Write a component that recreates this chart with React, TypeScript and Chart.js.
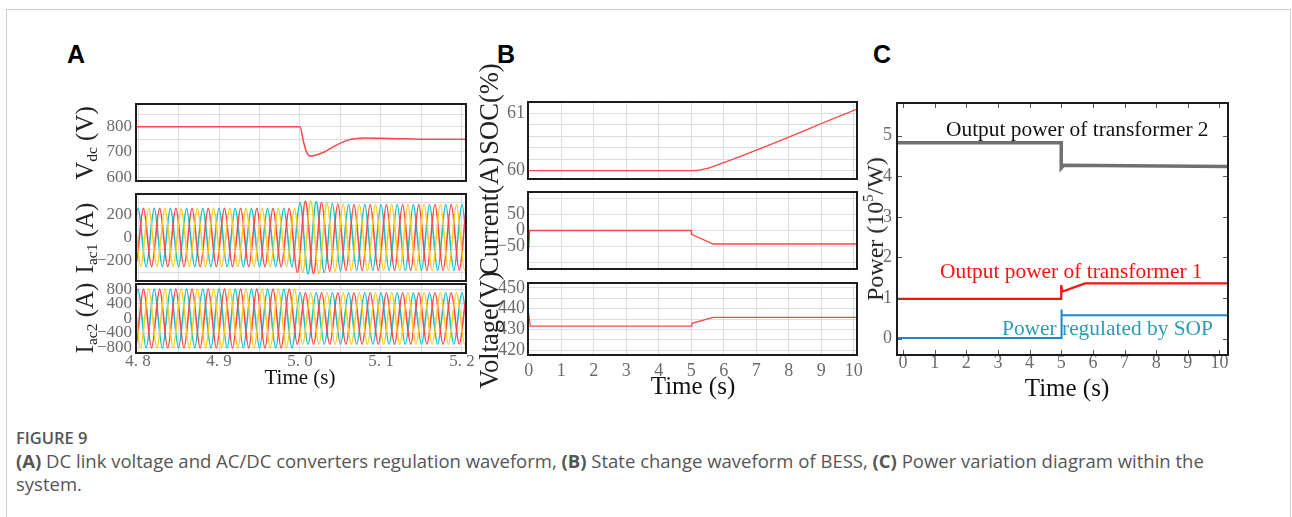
import React, { useEffect, useRef } from "react";
import { Chart, registerables } from "chart.js";
Chart.register(...registerables);

// ---------------- Panel A data ----------------
const vdcTime = [4.79, 5.0, 5.004, 5.008, 5.011, 5.015, 5.02, 5.03, 5.04, 5.05, 5.06, 5.07, 5.08, 5.1, 5.13, 5.16, 5.21];
const vdcVals = [800, 800, 745, 700, 686, 684, 688, 700, 718, 735, 748, 753, 755, 754, 752, 750, 750];

// AC currents: peak/trough magnitudes per half-cycle slot (50 Hz, slots of 0.01 s from 4.78 s)
const acSlotStart = 4.78;
const acHalfPeriod = 0.01;
const acEnd = 5.23;
const iac1Envelope = [
  250, 250, 250, 250, 250, 250, 250, 250, 250, 250, 250, 250, 250, 250, 250, 250, 250, 250, 250, 250, 250, 250,
  300, 312, 308, 300, 292, 287,
  283, 283, 283, 283, 283, 283, 283, 283, 283, 283, 283, 283, 283, 283, 283, 283, 283,
];
const iac2Envelope = [
  810, 810, 810, 810, 810, 810, 810, 810, 810, 810, 810, 810, 810, 810, 810, 810, 810, 810, 810, 810, 810, 810,
  710, 710, 710, 710, 710, 710, 710, 710, 710, 710, 710, 710, 710, 710, 710, 710, 710, 710, 710, 710, 710,
];
// first positive peak time of each phase
const phaseFirstPeak = { cyan: 4.8, red: 4.8067, yellow: 4.8133 };

const aXGrid = [4.8, 4.85, 4.9, 4.95, 5.0, 5.05, 5.1, 5.15, 5.2];
const aXLabelVals = [4.8, 4.9, 5.0, 5.1, 5.2];
const aXLabels = ["4. 8", "4. 9", "5. 0", "5. 1", "5. 2"];
const vdcYGrid = [600, 650, 700, 750, 800, 850];
const vdcYLabelVals = [600, 700, 800];
const vdcYLabels = ["600", "700", "800"];
const iac1YGrid = [-300, -200, -100, 0, 100, 200, 300];
const iac1YLabelVals = [-200, 0, 200];
const iac1YLabels = ["\u2212200", "0", "200"];
const iac2YGrid = [-800, -400, 0, 400, 800];
const iac2YLabelVals = [-800, -400, 0, 400, 800];
const iac2YLabels = ["\u2212800", "\u2212400", "0", "400", "800"];

// ---------------- Panel B data ----------------
const socTime = [0, 5.0, 5.15, 5.3, 5.45, 5.6, 10.1];
const socVals = [60, 60, 60.005, 60.015, 60.035, 60.06, 61.075];
const curTime = [0, 0.03, 5.0, 5.01, 5.68, 10.1];
const curVals = [-60, 0, 0, -12, -42, -42];
const voltTime = [0, 0.05, 5.0, 5.02, 5.68, 10.1];
const voltVals = [437.7, 431.6, 431.6, 432.9, 435.8, 435.8];

const bXGrid = [0, 1, 2, 3, 4, 5, 6, 7, 8, 9, 10];
const bXLabels = ["0", "1", "2", "3", "4", "5", "6", "7", "8", "9", "10"];
const socYGrid = [60, 60.2, 60.4, 60.6, 60.8, 61];
const socYLabelVals = [60, 61];
const socYLabels = ["60", "61"];
const curYGrid = [-100, -50, 0, 50, 100];
const curYLabelVals = [-50, 0, 50];
const curYLabels = ["\u221250", "0", "50"];
const voltYGrid = [420, 425, 430, 435, 440, 445, 450];
const voltYLabelVals = [420, 430, 440, 450];
const voltYLabels = ["420", "430", "440", "450"];

// ---------------- Panel C data (10^5 W) ----------------
const t2Time = [-0.19, 5.0, 5.0, 5.08, 10.27];
const t2Vals = [4.82, 4.82, 4.2, 4.27, 4.24];
const t1Time = [-0.19, 5.0, 5.0, 5.04, 5.75, 10.27];
const t1Vals = [0.98, 0.98, 1.32, 1.16, 1.36, 1.36];
const sopTime = [-0.19, 5.0, 5.0, 5.02, 5.04, 10.27];
const sopVals = [0.02, 0.02, 0.72, 0.6, 0.58, 0.58];

const cXTicks = [0, 1, 2, 3, 4, 5, 6, 7, 8, 9, 10];
const cXLabels = ["0", "1", "2", "3", "4", "5", "6", "7", "8", "9", "10"];
const cYTicks = [0, 1, 2, 3, 4, 5];
const cYLabels = ["0", "1", "2", "3", "4", "5"];

// ---------------- helpers ----------------
const zip = (xs: number[], ys: number[]) => xs.map((x, i) => ({ x, y: ys[i] }));

function buildPhase(firstPeak: number, env: number[]) {
  const pts: { x: number; y: number }[] = [];
  for (let k = -3; ; k++) {
    const t = firstPeak + k * acHalfPeriod;
    if (t > acEnd) break;
    const slot = Math.min(env.length - 1, Math.max(0, Math.round((t - acSlotStart) / acHalfPeriod)));
    pts.push({ x: t, y: (k % 2 === 0 ? 1 : -1) * env[slot] });
  }
  return pts;
}

const SERIF = '"Liberation Serif", "Times New Roman", serif';
const GRID = "#dedede";
const TICK = "#6a6a6a";
const YW = 70;
const P = 16;
const XH = 26;

const C_RED = "#ff4747";
const C_YEL = "#ffcc1a";
const C_CYA = "#16c2c8";

const framePlugin = {
  id: "frame",
  afterDraw(chart: any, _args: any, opts: any) {
    const { ctx, chartArea } = chart;
    const { left, top, right, bottom } = chartArea;
    ctx.save();
    if (opts && opts.innerTicks) {
      ctx.strokeStyle = "#555";
      ctx.lineWidth = 1;
      const xs = chart.scales.x;
      const ys = chart.scales.y;
      ctx.beginPath();
      xs.ticks.forEach((tk: any) => {
        const px = Math.round(xs.getPixelForValue(tk.value)) + 0.5;
        ctx.moveTo(px, bottom);
        ctx.lineTo(px, bottom - 5);
        ctx.moveTo(px, top);
        ctx.lineTo(px, top + 5);
      });
      ys.ticks.forEach((tk: any) => {
        const py = Math.round(ys.getPixelForValue(tk.value)) + 0.5;
        ctx.moveTo(left, py);
        ctx.lineTo(left + 5, py);
        ctx.moveTo(right, py);
        ctx.lineTo(right - 5, py);
      });
      ctx.stroke();
    }
    ctx.strokeStyle = "#1c1c1c";
    ctx.lineWidth = 2;
    ctx.strokeRect(left, top, right - left, bottom - top);
    ctx.restore();
  },
};

type Axis = { min: number; max: number; grid: number[]; labelVals: number[]; labels: string[]; pad: number };
type Spec = {
  key: string;
  area: { l: number; t: number; r: number; b: number };
  x: Axis;
  y: Axis;
  showX: boolean;
  gridLines: boolean;
  innerTicks: boolean;
  fontSize: number;
  datasets: any[];
};

function labelFor(v: number, ax: Axis) {
  const i = ax.labelVals.findIndex((lv) => Math.abs(lv - v) < 1e-6);
  return i >= 0 ? ax.labels[i] : "";
}

function PlotCanvas({ spec }: { spec: Spec }) {
  const ref = useRef<HTMLCanvasElement>(null);
  const { l, t, r, b } = spec.area;
  const xh = spec.showX ? XH : 0;
  const cw = YW + (r - l) + P;
  const ch = P + (b - t) + xh + P;
  useEffect(() => {
    const font = { family: SERIF, size: spec.fontSize, lineHeight: 1 };
    const chart = new Chart(ref.current as HTMLCanvasElement, {
      type: "line",
      data: { datasets: spec.datasets },
      plugins: [framePlugin as any],
      options: {
        responsive: false,
        animation: false,
        devicePixelRatio: 1,
        layout: { padding: { left: 0, right: P, top: P, bottom: P } },
        plugins: {
          legend: { display: false },
          tooltip: { enabled: false },
          frame: { innerTicks: spec.innerTicks },
        } as any,
        elements: { point: { radius: 0 } },
        scales: {
          x: {
            type: "linear",
            min: spec.x.min,
            max: spec.x.max,
            afterBuildTicks: (s: any) => {
              s.ticks = spec.x.grid.map((v) => ({ value: v }));
            },
            afterFit: (s: any) => {
              s.height = xh;
            },
            grid: { display: spec.gridLines, color: GRID, lineWidth: 1, drawTicks: false },
            border: { display: false },
            ticks: {
              display: spec.showX,
              autoSkip: false,
              maxRotation: 0,
              minRotation: 0,
              padding: spec.x.pad,
              color: TICK,
              font,
              callback: (v: any) => labelFor(Number(v), spec.x),
            },
          },
          y: {
            type: "linear",
            min: spec.y.min,
            max: spec.y.max,
            afterBuildTicks: (s: any) => {
              s.ticks = spec.y.grid.map((v) => ({ value: v }));
            },
            afterFit: (s: any) => {
              s.width = YW;
            },
            grid: { display: spec.gridLines, color: GRID, lineWidth: 1, drawTicks: false },
            border: { display: false },
            ticks: {
              autoSkip: false,
              padding: spec.y.pad,
              color: TICK,
              font,
              callback: (v: any) => labelFor(Number(v), spec.y),
            },
          },
        },
      } as any,
    });
    return () => chart.destroy();
  }, []);
  return (
    <canvas
      ref={ref}
      width={cw}
      height={ch}
      style={{ position: "absolute", left: l - YW, top: t - P, width: cw, height: ch }}
    />
  );
}

const line = (data: any[], color: string, width: number, smooth = false) => ({
  data,
  borderColor: color,
  borderWidth: width,
  pointRadius: 0,
  fill: false,
  cubicInterpolationMode: smooth ? "monotone" : "default",
  tension: 0,
});

const aX = (showX: boolean): Axis => ({
  min: 4.7975,
  max: 5.205,
  grid: aXGrid,
  labelVals: showX ? aXLabelVals : [],
  labels: showX ? aXLabels : [],
  pad: 0,
});
const bX = (showX: boolean): Axis => ({
  min: -0.02,
  max: 10.1,
  grid: bXGrid,
  labelVals: showX ? bXGrid : [],
  labels: showX ? bXLabels : [],
  pad: 7,
});

const specs: Spec[] = [
  {
    key: "vdc",
    area: { l: 136, t: 104, r: 466, b: 181 },
    x: aX(false),
    y: { min: 585, max: 890, grid: vdcYGrid, labelVals: vdcYLabelVals, labels: vdcYLabels, pad: 4 },
    showX: false,
    gridLines: true,
    innerTicks: false,
    fontSize: 17,
    datasets: [line(zip(vdcTime, vdcVals), C_RED, 1.5, true)],
  },
  {
    key: "iac1",
    area: { l: 136, t: 194, r: 466, b: 281 },
    x: aX(false),
    y: { min: -373, max: 373, grid: iac1YGrid, labelVals: iac1YLabelVals, labels: iac1YLabels, pad: 4 },
    showX: false,
    gridLines: true,
    innerTicks: false,
    fontSize: 17,
    datasets: [
      line(buildPhase(phaseFirstPeak.yellow, iac1Envelope), C_YEL, 1.6, true),
      line(buildPhase(phaseFirstPeak.red, iac1Envelope), C_RED, 1.6, true),
      line(buildPhase(phaseFirstPeak.cyan, iac1Envelope), C_CYA, 1.6, true),
    ],
  },
  {
    key: "iac2",
    area: { l: 136, t: 284, r: 466, b: 353 },
    x: aX(true),
    y: { min: -950, max: 950, grid: iac2YGrid, labelVals: iac2YLabelVals, labels: iac2YLabels, pad: 4 },
    showX: true,
    gridLines: true,
    innerTicks: false,
    fontSize: 17,
    datasets: [
      line(buildPhase(phaseFirstPeak.yellow, iac2Envelope), C_YEL, 1.6, true),
      line(buildPhase(phaseFirstPeak.red, iac2Envelope), C_RED, 1.6, true),
      line(buildPhase(phaseFirstPeak.cyan, iac2Envelope), C_CYA, 1.6, true),
    ],
  },
  {
    key: "soc",
    area: { l: 528, t: 102, r: 857, b: 179 },
    x: bX(false),
    y: { min: 59.855, max: 61.2, grid: socYGrid, labelVals: socYLabelVals, labels: socYLabels, pad: 3 },
    showX: false,
    gridLines: true,
    innerTicks: false,
    fontSize: 18,
    datasets: [line(zip(socTime, socVals), C_RED, 1.3, true)],
  },
  {
    key: "cur",
    area: { l: 528, t: 192, r: 857, b: 269 },
    x: bX(false),
    y: { min: -120, max: 120, grid: curYGrid, labelVals: curYLabelVals, labels: curYLabels, pad: 3 },
    showX: false,
    gridLines: true,
    innerTicks: false,
    fontSize: 18,
    datasets: [line(zip(curTime, curVals), C_RED, 1.3)],
  },
  {
    key: "volt",
    area: { l: 528, t: 283, r: 857, b: 355 },
    x: bX(true),
    y: { min: 417.6, max: 452.4, grid: voltYGrid, labelVals: voltYLabelVals, labels: voltYLabels, pad: 3 },
    showX: true,
    gridLines: true,
    innerTicks: false,
    fontSize: 18,
    datasets: [line(zip(voltTime, voltVals), C_RED, 1.3)],
  },
  {
    key: "power",
    area: { l: 897, t: 103, r: 1228, b: 355 },
    x: { min: -0.19, max: 10.27, grid: cXTicks, labelVals: cXTicks, labels: cXLabels, pad: -1 },
    y: { min: -0.4, max: 5.8, grid: cYTicks, labelVals: cYTicks, labels: cYLabels, pad: 5 },
    showX: true,
    gridLines: false,
    innerTicks: true,
    fontSize: 18,
    datasets: [
      line(zip(t2Time, t2Vals), "#707070", 3.5),
      line(zip(t1Time, t1Vals), "#ff1010", 2.2),
      line(zip(sopTime, sopVals), "#1f88c8", 2),
    ],
  },
];

function VText({ x, y, size, children, color = "#222" }: any) {
  return (
    <div
      style={{
        position: "absolute",
        left: x,
        top: y,
        transform: "translate(-50%, -50%) rotate(-90deg)",
        whiteSpace: "nowrap",
        fontFamily: SERIF,
        fontSize: size,
        lineHeight: 1,
        color,
      }}
    >
      {children}
    </div>
  );
}

function HText({ x, y, size, children, color = "#111", center = true }: any) {
  return (
    <div
      style={{
        position: "absolute",
        left: x,
        top: y,
        transform: center ? "translate(-50%, -50%)" : "translate(0, -50%)",
        whiteSpace: "nowrap",
        fontFamily: SERIF,
        fontSize: size,
        lineHeight: 1,
        color,
      }}
    >
      {children}
    </div>
  );
}

function Letter({ x, y, children }: any) {
  return (
    <div
      style={{
        position: "absolute",
        left: x,
        top: y,
        fontFamily: '"Liberation Sans", Arial, sans-serif',
        fontWeight: 700,
        fontSize: 25,
        lineHeight: "25px",
        color: "#000",
      }}
    >
      {children}
    </div>
  );
}

const subStyle = { fontSize: "0.62em", verticalAlign: "-0.25em" };

export default function App() {
  return (
    <div
      style={{
        position: "absolute",
        left: 0,
        top: 0,
        width: 1292,
        height: 517,
        background: "#fff",
        overflow: "hidden",
      }}
    >
      <div
        style={{
          position: "absolute",
          left: 6,
          top: 9,
          width: 1283,
          height: 540,
          border: "1px solid #cfcfcf",
        }}
      />
      <Letter x={67} y={42}>A</Letter>
      <Letter x={497} y={42}>B</Letter>
      <Letter x={873} y={42}>C</Letter>

      {specs.map((s) => (
        <PlotCanvas key={s.key} spec={s} />
      ))}

      {/* Panel A axis titles */}
      <VText x={86} y={143} size={25}>
        V<span style={subStyle}>dc</span> (V)
      </VText>
      <VText x={86} y={238} size={25}>
        I<span style={subStyle}>ac1</span> (A)
      </VText>
      <VText x={86} y={318} size={25}>
        I<span style={subStyle}>ac2</span> (A)
      </VText>
      <HText x={300} y={377} size={21}>Time (s)</HText>

      {/* Panel B axis titles */}
      <VText x={489} y={109} size={26.5}>SOC(%)</VText>
      <VText x={489} y={216} size={26.5}>Current(A)</VText>
      <VText x={489} y={330} size={26.5}>Voltage(V)</VText>
      <HText x={693} y={385} size={25}>Time (s)</HText>

      {/* Panel C axis titles and annotations */}
      <VText x={874} y={229} size={24}>
        Power (10<span style={{ fontSize: "0.6em", verticalAlign: "0.7em" }}>5</span>/W)
      </VText>
      <HText x={1067} y={387} size={25}>Time (s)</HText>
      <HText x={946} y={130} size={21.4} color="#111" center={false}>Output power of transformer 2</HText>
      <HText x={940} y={272} size={21.4} color="#ff1010" center={false}>Output power of transformer 1</HText>
      <HText x={1002} y={329} size={21.4} color="#2a9db5" center={false}>Power regulated by SOP</HText>

      {/* Caption */}
      <div
        style={{
          position: "absolute",
          left: 16,
          top: 427,
          fontFamily: '"Open Sans", "Noto Sans", sans-serif',
          color: "#555",
        }}
      >
        <div style={{ fontSize: 16.5, fontWeight: 600, lineHeight: "22px" }}>FIGURE 9</div>
        <div style={{ fontSize: 18.5, lineHeight: "23px", whiteSpace: "nowrap" }}>
          <b>(A)</b> DC link voltage and AC/DC converters regulation waveform, <b>(B)</b> State change waveform of
          BESS, <b>(C)</b> Power variation diagram within the
          <br />
          system.
        </div>
      </div>
    </div>
  );
}
